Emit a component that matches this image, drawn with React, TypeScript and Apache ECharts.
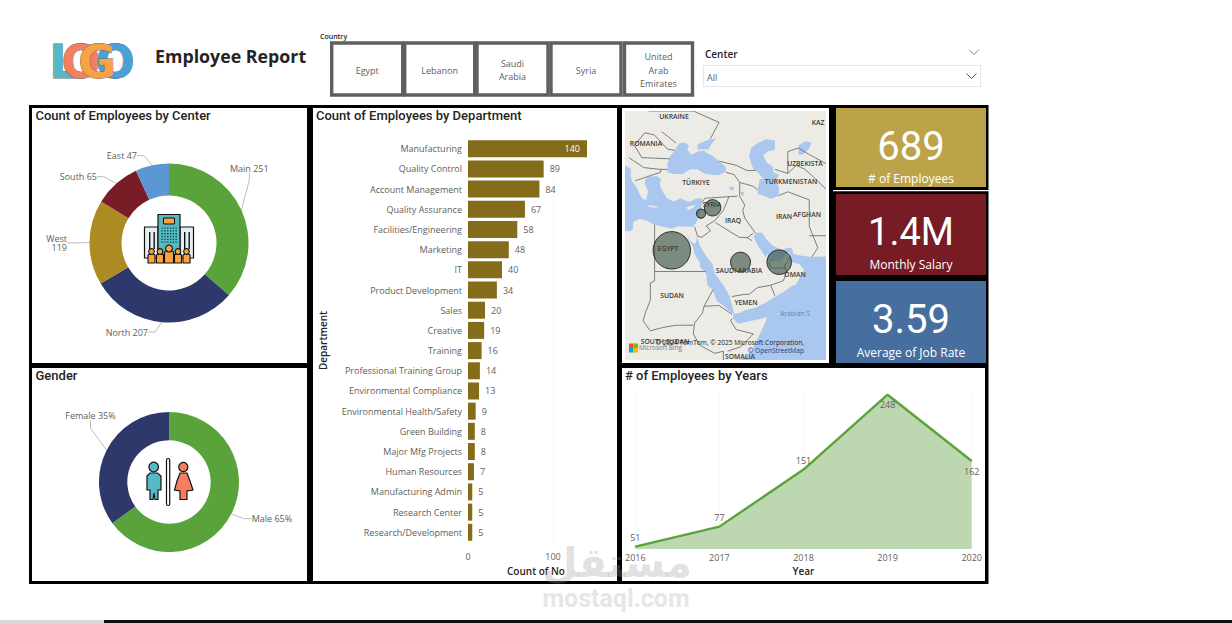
import React, { useEffect, useRef } from "react";
import * as echarts from "echarts";

const centerNames = ["Main", "North", "West", "South", "East"];
const centerValues = [251, 207, 119, 65, 47];
const genderNames = ["Male", "Female"];
const genderValues = [65, 35];
const departments = ["Manufacturing", "Quality Control", "Account Management", "Quality Assurance", "Facilities/Engineering", "Marketing", "IT", "Product Development", "Sales", "Creative", "Training", "Professional Training Group", "Environmental Compliance", "Environmental Health/Safety", "Green Building", "Major Mfg Projects", "Human Resources", "Manufacturing Admin", "Research Center", "Research/Development"];
const departmentValues = [140, 89, 84, 67, 58, 48, 40, 34, 20, 19, 16, 14, 13, 9, 8, 8, 7, 5, 5, 5];
const years = ["2016", "2017", "2018", "2019", "2020"];
const yearValues = [51, 77, 151, 248, 162];
const countries = ["Egypt", "Lebanon", "Saudi Arabia", "Syria", "United Arab Emirates"];
const countryLon = [29, 35.8, 45, 38.5, 54];
const countryLat = [26.5, 33.9, 24, 35, 24];
const countryValues = [350, 21, 100, 67, 151];

const waterAreas: number[][][] = [
  [[18.1,30.5],[19.5,30.4],[20,31],[20,32.2],[21.5,32.9],[23,32.6],[25,31.7],[27,31.3],[29,30.9],[30.5,31.4],[32,31.3],[34,31.3],[34.9,32.5],[35.5,34],[36,35.5],[36,36.8],[34.5,36.7],[33,36.1],[31,36.8],[29.5,36.2],[28,36.7],[27.3,37.5],[26.5,38.5],[26.2,39.5],[26.5,40.3],[25.5,40.8],[24,40.8],[23,40.4],[22.7,39.5],[23.5,38],[23,36.5],[22.3,36.6],[21.5,37.5],[21,38.5],[19.8,39.8],[19.4,41],[19.5,42],[18.5,42.5],[18.1,42.7]],
  [[28,41.5],[28,43],[28.7,44.3],[29.7,45.2],[30.7,46.3],[32,46.5],[33,46],[32.6,45.4],[33.5,44.5],[35,45],[36.5,45.2],[37,44.8],[38.5,44.3],[40,43.4],[41.5,42.5],[41.6,41.6],[40,41],[38.5,41],[36.5,41.3],[35,42],[33.3,42],[31.5,41.2],[29.5,41.2]],
  [[35,45.3],[35,46.2],[37.5,46.9],[39.2,47.1],[38,46],[37.5,45.3],[36.6,45.4]],
  [[47.5,45.6],[49,46.4],[51,47],[53,46.8],[53,45.3],[51.2,45],[50.3,44.4],[51,43.2],[52.5,42.5],[52.7,41.5],[54,41],[53,40],[53.9,39],[53.9,37.2],[52,36.7],[50.3,37.3],[49,37.6],[49,38.5],[49.5,40.3],[50.3,40.4],[49,41.5],[48,42],[47.5,43],[47,44.3]],
  [[32.5,30],[33,28.5],[33.8,27.5],[34.4,25.5],[35.5,24],[35.6,23],[37,21.5],[37.3,19],[38.5,18],[39.5,15.5],[41,14.5],[43,12.7],[43.5,12.6],[43.3,13.5],[42.7,15.5],[42.5,16.5],[41,19],[39,21.5],[38.5,23.5],[37.2,25],[35.5,27.5],[34.9,29.4],[34.6,28],[34,27.9],[33.2,28.5]],
  [[43.4,12.7],[45,12.8],[46,13.4],[48.5,14],[51,15.2],[52.3,16],[54,17],[55.3,17.7],[57,18.9],[57.8,19],[58.7,20.5],[59.8,22.4],[58.7,23.6],[57,24],[56.4,24.9],[56.3,26.2],[55.5,25.5],[54.5,24.3],[53,24.2],[51.7,24.2],[51.3,25.8],[50.8,25],[50.2,26],[49,27.5],[48,29.3],[48.7,30.1],[50,30.1],[51,28.8],[52.5,27.5],[54.5,26.6],[56.3,27.1],[57,26.9],[57.3,25.7],[59,25.4],[61.5,25.1],[64.9,25.2],[64.9,1.95],[45,1.95],[47.5,4],[49,7],[50.5,10],[51.2,11.8],[49,11.3],[46,10.7],[44.5,10.4],[43.2,11.5]],
  [[58.5,46],[60,46.7],[61.5,46.5],[61,45.5],[59.5,44.5],[58.5,44.5]],
  [[42.3,38.9],[43.2,38.9],[43.6,38.5],[42.8,38.3]],
  [[45,38],[45.8,38],[45.7,37.2],[45.2,37.4]],
];
const islands: number[][][] = [
  [[32.3,35],[33,35.3],[34.5,35.6],[34,35],[33,34.6]],
  [[23.5,35.5],[24.5,35.4],[26.2,35.2],[25,35],[23.6,35.2]],
  [[53.3,12.6],[54.4,12.6],[54,12.4]],
];
const borders: number[][][] = [
  [[25,22],[36.9,22]], [[25,31.7],[25,20],[24,19.5],[24,15.7],[22.9,13],[22.3,11],[24,8.7],[27,9.5],[30,10],[34,10]],
  [[38.6,18],[36.5,14.3],[36.1,12.7],[34.3,10.5],[34,8],[35.5,5.4],[39,3.5],[41,4],[41,1.9]],
  [[36.5,14.3],[40,14.5],[43,12.5]], [[43,11.5],[42.7,11],[44,9],[48,8],[45,5],[42,4]],
  [[36,36],[36.7,36.8],[42.3,37.1],[44.3,37.2]], [[42.3,37.1],[41,34.5],[39,32.5],[37,31.5],[38,30.5],[36,29.2],[35,29.4],[34.3,31.3]],
  [[39.2,32.1],[44.7,29.2],[46.5,29.1],[47.7,28.5]], [[46.5,29.1],[48,30]], [[48.5,30],[46,33],[45.5,34.5],[46,35.5],[44.8,37.2],[44.8,39.7]],
  [[41.6,41.5],[43.5,41.1],[44.8,39.7],[48,39],[48.9,38.4]], [[40,43.4],[44,42.7],[46.5,41.8],[48.5,41.8]],
  [[53.9,37.3],[56,38],[61,36.5],[61,31.4],[63,27],[61.6,25.1]], [[61,29.5],[64.9,29.5]],
  [[53,42],[56,41.3],[58,42.7],[60,42],[61.5,41],[64.9,38.5]], [[56,41.3],[56,45],[58.5,45.6],[61,44.5],[64.9,43]],
  [[43,16.5],[46,17],[47,17],[49,18.5],[52,19],[53,16.7]], [[52,19],[55,20],[55.7,22],[55.2,23.2],[56,24.2],[56.3,24.9]],
  [[51.6,24.1],[52,22.8],[55.2,22.7],[55.7,22]],
  [[22,44],[28.6,43.8]], [[22.7,48],[24.9,47.7],[28,45.4],[29.7,45.2]], [[22,44],[20.3,46],[22.7,48]], [[40,49.6],[38,47.1]],
  [[23.6,51.3],[34,51.3],[40,49.6]], [[26.4,42],[28,42]], [[20.5,40],[26.4,41.5],[26.4,42],[22.5,42.3],[19,44]], [[26.6,48.2],[30,46.4]], [[35.2,33.1],[36,33]],
];

const FONT = "'Open Sans', 'Noto Sans', sans-serif";
const HEAD = "Roboto, sans-serif";
const GREY = "#605E5C";
const GREEN = "#5AA33B";

const merc = (lat: number) => Math.log(Math.tan(Math.PI / 4 + (lat * Math.PI) / 360));

const T = (x: number, y: number, text: string, o: any = {}) => ({
  type: "text", x, y, z: o.z ?? 20,
  style: { text, fill: o.fill ?? GREY, fontSize: o.size ?? 9, fontFamily: o.font ?? FONT, fontWeight: o.weight ?? 400, align: o.align ?? "left", verticalAlign: "middle", stroke: o.stroke, lineWidth: o.lw },
});
const R = (x: number, y: number, w: number, h: number, fill: string, o: any = {}) => ({
  type: "rect", z: o.z ?? -1, shape: { x, y, width: w, height: h, r: o.r ?? 0 }, style: { fill, stroke: o.stroke, lineWidth: o.lw },
});
const C = (cx: number, cy: number, r: number, fill: string, z = 20, lw = 1.2) => ({
  type: "circle", z, shape: { cx, cy, r }, style: { fill, stroke: "#111", lineWidth: lw },
});
const chevron = (cx: number, cy: number, color: string) => ({
  type: "polyline", z: 20, shape: { points: [[cx - 5, cy - 2.5], [cx, cy + 2.5], [cx + 5, cy - 2.5]] }, style: { stroke: color, fill: "none", lineWidth: 1 },
});

function buildingIcon() {
  const els: any[] = [
    R(144.5, 227, 13.5, 31, "#E6EEF5", { stroke: "#111", lw: 1.2, z: 20 }),
    R(180, 227, 13.5, 31, "#E6EEF5", { stroke: "#111", lw: 1.2, z: 20 }),
    R(158, 214.5, 22, 40, "#54B9C5", { stroke: "#111", lw: 1.2, z: 20 }),
    R(163.5, 218, 11, 6, "#F9A23F", { stroke: "#111", lw: 1, z: 21 }),
  ];
  [149, 153.5, 184, 188.5].forEach((x) => els.push(R(x, 232, 1.4, 17, "#111", { z: 21 })));
  for (let row = 0; row < 6; row++) {
    for (let col = 0; col < 6; col++) {
      els.push(R(161.5 + col * 2.8, 227.5 + row * 2.8, 1.3, 1.3, "#143A44", { z: 21 }));
    }
  }
  [[151.5, 2.8, 3.5], [160, 2.8, 3.5], [169, 3.4, 4.5], [178, 2.8, 3.5], [186.5, 2.8, 3.5]].forEach(([cx, hr, w], i) => {
    const top = i === 2 ? 251 : 254;
    els.push({ type: "polygon", z: i === 2 ? 24 : 23, shape: { points: [[cx - w, 263], [cx - w, top + 1], [cx, top - 1], [cx + w, top + 1], [cx + w, 263]] }, style: { fill: "#F9A23F", stroke: "#111", lineWidth: 1.1 } });
    els.push(C(cx, top - 2.5, hr, "#F9A23F", 25, 1.1));
  });
  return els;
}

function genderIcon() {
  return [
    C(153.7, 467, 4.8, "#54BAC6"),
    { type: "polygon", z: 20, shape: { points: [[147, 476], [150, 473], [157.5, 473], [161, 476], [161, 490], [158, 490], [158, 499.5], [155, 499.5], [154, 493], [153, 499.5], [150, 499.5], [150, 490], [147, 490]] }, style: { fill: "#54BAC6", stroke: "#111", lineWidth: 1.2 } },
    R(166.5, 458.5, 3.2, 47, "#fff", { stroke: "#111", lw: 1.2, z: 20, r: 1.5 }),
    C(183.3, 467, 4.6, "#F47F5E"),
    { type: "polygon", z: 20, shape: { points: [[180, 473], [187, 473], [190, 481], [193, 490], [187, 491], [187, 499.5], [180, 499.5], [180, 491], [174.5, 490], [177, 481]] }, style: { fill: "#F47F5E", stroke: "#111", lineWidth: 1.2 } },
  ];
}

function logo() {
  const letter = (x: number, text: string, fill: string) => T(x, 61.5, text, { size: 46, weight: 700, font: "'DejaVu Sans', sans-serif", fill, stroke: "#5C6B73", lw: 0.8, align: "center" });
  return [letter(64, "L", "#54B9C5"), letter(81, "O", "#F47F5E"), letter(115, "O", "#4AA0D9"), letter(97, "G", "#F9A144")];
}

function slicerButton(x: number, w: number, lines: string[]) {
  const els: any[] = [R(x, 43, w, 52, "#fff", { stroke: "#5F5E62", lw: 3.4, z: 2 })];
  const cx = x + w / 2;
  const start = 70 - ((lines.length - 1) * 13.5) / 2;
  lines.forEach((l, i) => els.push(T(cx, start + i * 13.5, l, { align: "center", size: 9 })));
  return els;
}

const App = () => {
  const ref = useRef<HTMLDivElement>(null);
  useEffect(() => {
    document.body.style.margin = "0";
    const chart = echarts.init(ref.current!, null, { renderer: "svg" });
    const head = { size: 13, font: HEAD, weight: 500, fill: "#252423" };
    const graphics: any[] = [
      R(29, 105, 959.5, 479, "#000", { z: -2 }),
      R(32, 108, 275, 255, "#fff"),
      R(32, 368, 275, 213, "#fff"),
      R(313, 108, 304, 473, "#fff"),
      R(622, 108, 207, 255, "#fff"),
      R(622, 368, 363, 213, "#fff"),
      R(836, 108, 150, 79, "#BCA34A"),
      R(833, 190, 156, 1.2, "#fff"),
      R(836, 194, 150, 81, "#771B24"),
      R(836, 281, 150, 82, "#466F9F"),
      R(0, 620, 104, 3, "#D9D9D9"),
      R(104, 620, 1128, 3, "#111"),
      ...logo(),
      T(155, 55.5, "Employee Report", { size: 17.8, weight: 700, fill: "#252423" }),
      T(320, 36, "Country", { size: 7, weight: 600, fill: "#252423" }),
      ...slicerButton(331.7, 71, ["Egypt"]),
      ...slicerButton(404.7, 70, ["Lebanon"]),
      ...slicerButton(477, 71, ["Saudi", "Arabia"]),
      ...slicerButton(551, 70, ["Syria"]),
      ...slicerButton(624.5, 68, ["United", "Arab", "Emirates"]),
      T(705, 54, "Center", { size: 10, weight: 600, fill: "#252423" }),
      chevron(974, 52, "#8A8886"),
      R(703.5, 65.5, 277, 21, "#fff", { stroke: "#E6E6E6", lw: 1, z: 2 }),
      T(707, 77.5, "All", { size: 9 }),
      chevron(971.5, 76, "#605E5C"),
      T(35.5, 115.5, "Count of Employees by Center", head),
      T(316, 115.5, "Count of Employees by Department", head),
      T(35.5, 375.5, "Gender", head),
      T(625, 375.5, "# of Employees by Years", head),
      ...buildingIcon(),
      ...genderIcon(),
      T(911, 146, "689", { size: 40, font: HEAD, fill: "#fff", align: "center" }),
      T(911, 178.5, "# of Employees", { size: 12, fill: "#fff", align: "center" }),
      T(911, 232, "1.4M", { size: 38, font: HEAD, fill: "#fff", align: "center" }),
      T(911, 264.5, "Monthly Salary", { size: 12, fill: "#fff", align: "center" }),
      T(911, 319, "3.59", { size: 40, font: HEAD, fill: "#fff", align: "center" }),
      T(911, 352, "Average of Job Rate", { size: 12, fill: "#fff", align: "center" }),
      ...[["UKRAINE", 674, 116], ["KAZ", 818, 122], ["ROMANIA", 646, 143], ["UZBEKISTA", 805, 163], ["TÜRKIYE", 696, 182], ["TURKMENISTAN", 791, 181], ["SYRIA", 712, 204], ["IRAQ", 733, 220], ["IRAN", 784, 216], ["AFGHAN", 807, 214], ["EGYPT", 668, 248], ["SAUDI ARABIA", 739, 270], ["OMAN", 795, 274], ["SUDAN", 672, 295], ["YEMEN", 746, 302], ["SOMALIA", 740, 356], ["SOUTH SUDAN", 665, 341]].map(([t, x, y]) =>
        T(x as number, y as number, t as string, { size: 6.8, fill: "#3A3A3A", align: "center", weight: 600, z: 22 })),
      T(795, 313, "Arabian S", { size: 6.8, fill: "#5C86B8", align: "center", z: 22 }),
      T(804, 342, "© 2024 TomTom, © 2025 Microsoft Corporation,", { size: 6.6, fill: "#222", align: "right", z: 23 }),
      T(804, 350, "© OpenStreetMap", { size: 6.6, fill: "#1F3A93", align: "right", z: 23 }),
      T(639, 347, "Microsoft Bing", { size: 6.4, fill: "#777", z: 23 }),
      R(629, 343.5, 4.5, 4.5, "#F25022", { z: 23 }), R(633.5, 343.5, 4.5, 4.5, "#7FBA00", { z: 23 }),
      R(629, 348, 4.5, 4.5, "#00A4EF", { z: 23 }), R(633.5, 348, 4.5, 4.5, "#FFB900", { z: 23 }),
      T(617, 563, "مستقل", { size: 41, font: "'DejaVu Sans', sans-serif", weight: 700, fill: "rgba(150,150,150,0.3)", align: "center", z: 40 }),
      T(616, 598, "mostaql.com", { size: 25, font: "Roboto, sans-serif", weight: 700, fill: "#E6E6E6", align: "center", z: 40 }),
    ];

    const pieLabel = { color: GREY, fontSize: 9, fontFamily: FONT };
    const axisName = { color: "#252423", fontSize: 10, fontWeight: 600, fontFamily: FONT };
    const centerSpots: any[] = [[230, 168.7, "left"], [148, 332, "right"], [67, 243, "right"], [97, 176.7, "right"], [137, 155.7, "right"]];
    const genderSpots: any[] = [[251.7, 518.7, "left"], [115.7, 415.7, "right"]];
    const spotLayout = (spots: any[]) => (p: any) => ({ x: spots[p.dataIndex][0], y: spots[p.dataIndex][1], align: spots[p.dataIndex][2], verticalAlign: "middle" });

    chart.setOption({
      animation: false,
      backgroundColor: "#fff",
      graphic: { elements: graphics },
      grid: [
        { left: 468, top: 138.6, width: 136, height: 403.8 },
        { left: 635.3, top: 394.7, width: 336.4, height: 154.3 },
        { left: 625, top: 111, width: 201, height: 249, show: true, backgroundColor: "#ECEBE6", borderWidth: 0 },
      ],
      xAxis: [
        {
          gridIndex: 0, type: "value", min: 0, max: 160, interval: 100,
          name: "Count of No", nameLocation: "middle", nameGap: 20, nameTextStyle: axisName,
          axisLine: { show: false }, axisTick: { show: false },
          axisLabel: { color: GREY, fontSize: 9, fontFamily: FONT, showMaxLabel: false, margin: 10 },
          splitLine: { show: true, showMaxLine: false, lineStyle: { color: "#F0F0F0", type: "dotted" } },
        },
        {
          gridIndex: 1, type: "category", data: years, boundaryGap: false,
          name: "Year", nameLocation: "middle", nameGap: 17, nameTextStyle: axisName,
          axisLine: { show: false }, axisTick: { show: false },
          axisLabel: { color: GREY, fontSize: 9, fontFamily: FONT, margin: 4, interval: 0 },
          splitLine: { show: true, lineStyle: { color: "#F0F0F0", type: "dotted" } },
        },
        { gridIndex: 2, type: "value", min: 18.1, max: 64.9, show: false },
      ],
      yAxis: [
        {
          gridIndex: 0, type: "category", data: departments, inverse: true,
          name: "Department", nameLocation: "middle", nameGap: 140, nameRotate: 90, nameTextStyle: axisName,
          axisLine: { show: false }, axisTick: { show: false },
          axisLabel: { color: GREY, fontSize: 9, fontFamily: FONT, margin: 6, interval: 0 },
        },
        { gridIndex: 1, type: "value", min: 48, max: 248, show: false, splitLine: { show: false } },
        { gridIndex: 2, type: "value", min: merc(1.95), max: merc(51.3), show: false, splitLine: { show: false } },
      ],
      series: [
        {
          type: "pie", center: [169, 243], radius: [47.5, 79.5], startAngle: 90, clockwise: true, avoidLabelOverlap: false,
          color: [GREEN, "#2E386B", "#AC8C22", "#7A1C25", "#5B97D2"],
          data: centerNames.map((name, i) => ({ name, value: centerValues[i] })),
          label: { ...pieLabel, formatter: (p: any) => (p.name === "West" ? `${p.name}\n${p.value}` : `${p.name} ${p.value}`) },
          labelLine: { length: 7, length2: 7, lineStyle: { color: "#BDBDBD", width: 1 } },
          labelLayout: spotLayout(centerSpots),
        },
        {
          type: "pie", center: [169, 482], radius: [41.7, 70], startAngle: 90, clockwise: true, avoidLabelOverlap: false,
          color: [GREEN, "#2E386B"],
          data: genderNames.map((name, i) => ({ name, value: genderValues[i] })),
          label: { ...pieLabel, formatter: (p: any) => `${p.name} ${p.value}%` },
          labelLine: { length: 7, length2: 8, lineStyle: { color: "#BDBDBD", width: 1 } },
          labelLayout: spotLayout(genderSpots),
        },
        {
          type: "bar", xAxisIndex: 0, yAxisIndex: 0, barWidth: 17, itemStyle: { color: "#846C1A" },
          data: departmentValues.map((value, i) => ({
            value,
            label: i === 0 ? { position: "insideRight", color: "#fff", distance: 7 } : { position: "right", color: GREY, distance: 6 },
          })),
          label: { show: true, fontSize: 9, fontFamily: FONT },
        },
        {
          type: "line", xAxisIndex: 1, yAxisIndex: 1, symbol: "circle", symbolSize: 1, showSymbol: true, showAllSymbol: true,
          itemStyle: { color: GREEN },
          lineStyle: { color: GREEN, width: 2.4 }, areaStyle: { color: "#BDD8B0", opacity: 1 },
          data: yearValues.map((value, i) => ({
            value,
            label: { position: i >= 3 ? "bottom" : "top", distance: i >= 3 ? 5 : 4 },
          })),
          label: { show: true, color: GREY, fontSize: 9, fontFamily: FONT },
        },
        {
          type: "custom", xAxisIndex: 2, yAxisIndex: 2, clip: true, silent: true, z: 3,
          data: waterAreas.map((_, i) => i),
          renderItem: (p: any, api: any) => ({
            type: "polygon",
            shape: { points: waterAreas[p.dataIndex].map(([lon, lat]) => api.coord([lon, merc(lat)])) },
            style: { fill: "#A9C7EF" },
          }),
        },
        {
          type: "custom", xAxisIndex: 2, yAxisIndex: 2, clip: true, silent: true, z: 4,
          data: islands.map((_, i) => i),
          renderItem: (p: any, api: any) => ({
            type: "polygon",
            shape: { points: islands[p.dataIndex].map(([lon, lat]) => api.coord([lon, merc(lat)])) },
            style: { fill: "#ECEBE6" },
          }),
        },
        {
          type: "custom", xAxisIndex: 2, yAxisIndex: 2, clip: true, silent: true, z: 5,
          data: borders.map((_, i) => i),
          renderItem: (p: any, api: any) => ({
            type: "polyline",
            shape: { points: borders[p.dataIndex].map(([lon, lat]) => api.coord([lon, merc(lat)])) },
            style: { stroke: "#707070", lineWidth: 0.9, fill: "none" },
          }),
        },
        {
          type: "scatter", xAxisIndex: 2, yAxisIndex: 2, z: 6,
          symbolSize: (v: number[]) => 2 * Math.sqrt(v[2]),
          itemStyle: { color: "rgba(62,88,72,0.82)", borderColor: "#111", borderWidth: 1 },
          data: countries.map((name, i) => ({ name, value: [countryLon[i], merc(countryLat[i]), countryValues[i]] })),
        },
      ],
    });
    return () => chart.dispose();
  }, []);
  return <div ref={ref} style={{ width: 1232, height: 623 }} />;
};

export default App;
